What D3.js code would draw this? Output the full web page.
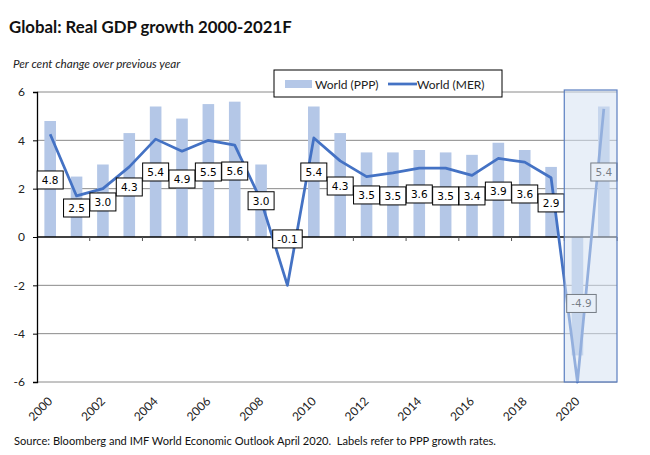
<!DOCTYPE html>
<html>
<head>
<meta charset="utf-8">
<script src="https://cdn.jsdelivr.net/npm/d3@7"></script>
<style>
  body { margin: 0; background: #fff; }
  svg { display: block; font-family: Lato, "Open Sans", sans-serif; }
</style>
</head>
<body>
<svg id="chart" width="650" height="455"></svg>
<script>
// Real GDP growth, per cent
const years = d3.range(2000, 2022).map(String);
const pppGrowth = [4.8, 2.5, 3.0, 4.3, 5.4, 4.9, 5.5, 5.6, 3.0, -0.1, 5.4, 4.3, 3.5, 3.5, 3.6, 3.5, 3.4, 3.9, 3.6, 2.9, -4.9, 5.4];
const merGrowth = [4.25, 1.7, 2.0, 2.9, 4.05, 3.55, 4.0, 3.8, 1.5, -2.0, 4.1, 3.15, 2.5, 2.65, 2.85, 2.85, 2.55, 3.25, 3.1, 2.45, -6.0, 5.3];
// where each PPP label box sits, in chart units
const labelAt = [2.36, 1.2, 1.45, 2.07, 2.69, 2.4, 2.69, 2.73, 1.5, -0.08, 2.69, 2.11, 1.74, 1.7, 1.78, 1.7, 1.7, 1.9, 1.78, 1.41, -2.75, 2.69];
const yTicks = [-6, -4, -2, 0, 2, 4, 6];
const forecastYears = ["2020", "2021"];

(function () {
  const svg = d3.select("#chart");
  const left = 37, right = 617, plotTop = 92, plotBottom = 382;

  const x = d3.scaleBand().domain(years).range([left, right]);
  const y = d3.scaleLinear().domain([-6, 6]).range([plotBottom, plotTop]);
  const bw = x.bandwidth();

  // title + subtitle
  svg.append("text")
    .attr("x", 9).attr("y", 33)
    .attr("font-size", 16.8).attr("font-weight", 700)
    .attr("fill", "#111")
    .text("Global: Real GDP growth 2000-2021F");

  svg.append("text")
    .attr("x", 13).attr("y", 68)
    .attr("font-size", 11.7).attr("font-style", "italic")
    .attr("fill", "#222")
    .text("Per cent change over previous year");

  // gridlines
  svg.append("g")
    .selectAll("line")
    .data(yTicks.filter((d) => d !== 0))
    .join("line")
    .attr("x1", left).attr("x2", right)
    .attr("y1", (d) => y(d)).attr("y2", (d) => y(d))
    .attr("stroke", "#8a8a8a").attr("stroke-width", 1);

  // bars
  svg.append("g")
    .selectAll("rect")
    .data(years)
    .join("rect")
    .attr("x", (d) => x(d) + bw * 0.28)
    .attr("width", bw * 0.44)
    .attr("y", (d, i) => y(Math.max(0, pppGrowth[i])))
    .attr("height", (d, i) => Math.abs(y(pppGrowth[i]) - y(0)))
    .attr("fill", "#b4c7e7");

  // y axis
  const yAxis = svg.append("g")
    .attr("transform", `translate(${left},0)`)
    .call(d3.axisLeft(y).tickValues(yTicks).tickSize(4).tickPadding(8).tickFormat((d) => String(d)));
  yAxis.select(".domain").attr("stroke", "#000").attr("stroke-width", 1.3);
  yAxis.selectAll("line").attr("stroke", "#000");
  yAxis.selectAll("text").attr("font-size", 12).attr("font-family", "Lato, sans-serif").attr("fill", "#222");

  // zero line with ticks every two years
  const xAxis = svg.append("g")
    .attr("transform", `translate(0,${y(0)})`);
  xAxis.append("line")
    .attr("x1", left).attr("x2", right)
    .attr("stroke", "#000").attr("stroke-width", 1.5);
  xAxis.selectAll("line.tk")
    .data(years.filter((d, i) => i % 2 === 0 && i > 0).concat(["end"]))
    .join("line")
    .attr("class", "tk")
    .attr("x1", (d) => (d === "end" ? right : x(d)))
    .attr("x2", (d) => (d === "end" ? right : x(d)))
    .attr("y1", 0).attr("y2", 4)
    .attr("stroke", "#555");

  // year labels, rotated
  svg.append("g")
    .selectAll("text")
    .data(years.filter((d, i) => i % 2 === 0))
    .join("text")
    .attr("transform", (d) => `translate(${x(d) + bw / 2 + 3},${plotBottom + 20}) rotate(-45)`)
    .attr("text-anchor", "end")
    .attr("font-size", 12)
    .attr("fill", "#222")
    .text((d) => d);

  // MER line
  const line = d3.line()
    .x((d, i) => x(years[i]) + bw / 2)
    .y((d) => y(d));
  svg.append("path")
    .datum(merGrowth)
    .attr("d", line)
    .attr("fill", "none")
    .attr("stroke", "#4472c4")
    .attr("stroke-width", 2.75)
    .attr("stroke-linejoin", "round");

  // PPP labels
  const lab = svg.append("g")
    .selectAll("g")
    .data(years)
    .join("g")
    .attr("transform", (d, i) => `translate(${x(d) + bw / 2 + (d === "2020" ? 4 : 0)},${y(labelAt[i])})`);
  const box = lab.append("rect")
    .attr("y", -9).attr("height", 18)
    .attr("fill", "#fff").attr("stroke", "#000").attr("stroke-width", 1);
  const txt = lab.append("text")
    .attr("text-anchor", "middle")
    .attr("dy", "0.36em")
    .attr("font-family", "'DejaVu Sans', Verdana, sans-serif")
    .attr("font-size", 10.5)
    .attr("fill", "#000")
    .text((d, i) => pppGrowth[i].toFixed(1));
  txt.each(function (d, i) {
    const w = Math.max(26, this.getComputedTextLength() + 9);
    d3.select(box.nodes()[i]).attr("x", -w / 2).attr("width", w);
  });

  // forecast shading
  svg.append("rect")
    .attr("x", x(forecastYears[0]))
    .attr("width", x(forecastYears[1]) + bw - x(forecastYears[0]))
    .attr("y", plotTop - 2)
    .attr("height", plotBottom - plotTop + 2)
    .attr("fill", "#d6e2f3")
    .attr("fill-opacity", 0.55)
    .attr("stroke", "#5a7ec0")
    .attr("stroke-width", 1.2);

  // legend
  const leg = svg.append("g").attr("transform", "translate(274,70)");
  leg.append("rect")
    .attr("width", 228).attr("height", 27)
    .attr("fill", "#fff").attr("stroke", "#000");
  leg.append("rect")
    .attr("x", 11).attr("y", 10).attr("width", 27).attr("height", 8)
    .attr("fill", "#b4c7e7");
  leg.append("text")
    .attr("x", 41).attr("y", 18.5)
    .attr("font-size", 12).attr("fill", "#222")
    .text("World (PPP)");
  leg.append("line")
    .attr("x1", 114).attr("x2", 143).attr("y1", 14).attr("y2", 14)
    .attr("stroke", "#4472c4").attr("stroke-width", 2.75);
  leg.append("text")
    .attr("x", 143).attr("y", 18.5)
    .attr("font-size", 12).attr("fill", "#222")
    .text("World (MER)");

  // source note
  svg.append("text")
    .attr("x", 14).attr("y", 445)
    .attr("font-size", 11.1)
    .attr("fill", "#111")
    .style("white-space", "pre")
    .text("Source: Bloomberg and IMF World Economic Outlook April 2020.  Labels refer to PPP growth rates.");
})();
</script>
</body>
</html>
